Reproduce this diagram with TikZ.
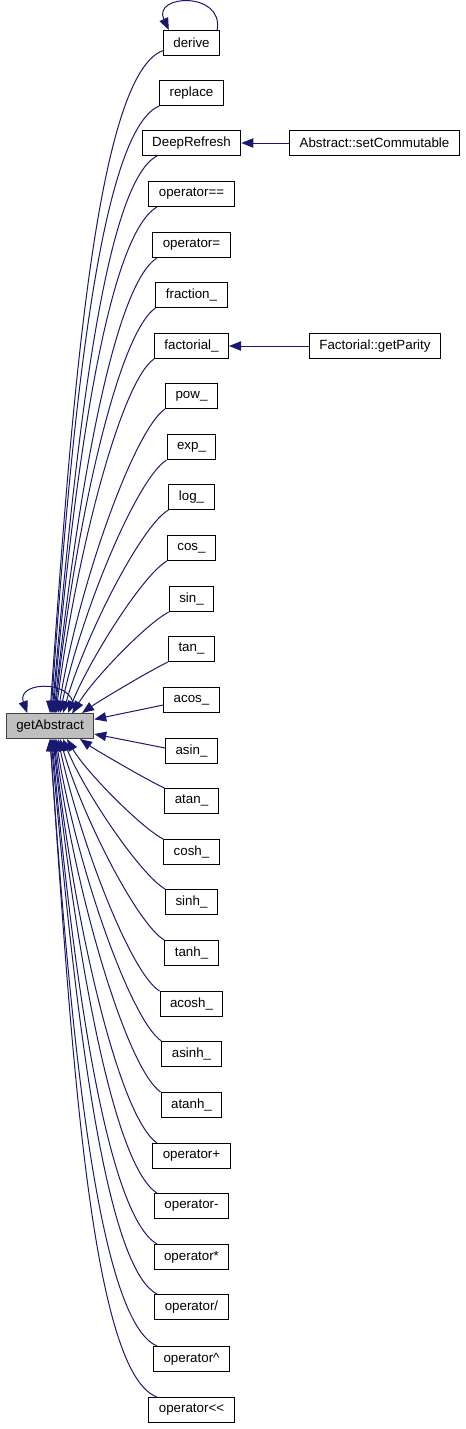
\documentclass[tikz,border=0pt]{standalone}
\usepackage{fontspec}
\setmainfont{Liberation Sans}
\usetikzlibrary{arrows.meta,calc}
\definecolor{edgeblue}{HTML}{191970}
\definecolor{focusgray}{HTML}{BFBFBF}

\begin{document}
\begin{tikzpicture}[x=0.75pt,y=0.75pt]
\tikzset{
  funcnode/.style={rectangle,draw=black,line width=0.75pt,fill=white,minimum height=18.75pt,inner xsep=7.5pt,inner ysep=0pt,font=\fontsize{10}{12}\selectfont},
  focusnode/.style={funcnode,fill=focusgray,draw=black!75},
  calledge/.style={draw=edgeblue,line width=0.75pt,-{Triangle[length=9pt,width=7pt]}}
}
\useasboundingbox (0,0) rectangle (465,-1429);
\coordinate (c_start) at (157,0);
\node[focusnode] (n_getAbstract) at (50,-726) {getAbstract};
\node[funcnode] (n_derive) at (191.5,-43) {derive};
\node[funcnode] (n_replace) at (191.5,-93) {replace};
\node[funcnode] (n_DeepRefresh) at (191.5,-143) {DeepRefresh};
\node[funcnode] (n_setCommutable) at (374.5,-143) {Abstract::setCommutable};
\node[funcnode] (n_opEq) at (191.5,-194) {operator==};
\node[funcnode] (n_opAssign) at (191.5,-245) {operator=};
\node[funcnode] (n_fraction) at (191.5,-295) {fraction\_};
\node[funcnode] (n_factorial) at (191.5,-346) {factorial\_};
\node[funcnode] (n_getParity) at (375,-346) {Factorial::getParity};
\node[funcnode] (n_pow) at (191.5,-396) {pow\_};
\node[funcnode] (n_exp) at (191.5,-447) {exp\_};
\node[funcnode] (n_log) at (191.5,-497) {log\_};
\node[funcnode] (n_cos) at (191.5,-548) {cos\_};
\node[funcnode] (n_sin) at (191.5,-599) {sin\_};
\node[funcnode] (n_tan) at (191.5,-649) {tan\_};
\node[funcnode] (n_acos) at (191.5,-700) {acos\_};
\node[funcnode] (n_asin) at (191.5,-751) {asin\_};
\node[funcnode] (n_atan) at (191.5,-801) {atan\_};
\node[funcnode] (n_cosh) at (191.5,-852) {cosh\_};
\node[funcnode] (n_sinh) at (191.5,-902) {sinh\_};
\node[funcnode] (n_tanh) at (191.5,-953) {tanh\_};
\node[funcnode] (n_acosh) at (191.5,-1004) {acosh\_};
\node[funcnode] (n_asinh) at (191.5,-1054) {asinh\_};
\node[funcnode] (n_atanh) at (191.5,-1105) {atanh\_};
\node[funcnode] (n_opPlus) at (191.5,-1156) {operator+};
\node[funcnode] (n_opMinus) at (191.5,-1206) {operator-};
\node[funcnode] (n_opTimes) at (191.5,-1257) {operator*};
\node[funcnode] (n_opDiv) at (191.5,-1307) {operator/};
\node[funcnode] (n_opPow) at (191.5,-1359) {operator\^{}};
\node[funcnode] (n_opShift) at (191.5,-1410) {operator<{}<};
% self calls
\draw[calledge] ([xshift=-2.25pt]n_derive.north east) to[out=80,in=115,looseness=2.1] ([xshift=4.5pt]n_derive.north west);
\draw[calledge] ([xshift=17pt]n_getAbstract.north) to[out=75,in=110,looseness=2] ([xshift=-17pt]n_getAbstract.north);
% callers of other callers
\draw[calledge] (n_setCommutable) -- (n_DeepRefresh);
\draw[calledge] (n_getParity) -- (n_factorial);
% callers above
\draw[calledge] ([yshift=4pt]n_derive.south west) to[out=200,in=86,out looseness=0.275,in looseness=1.15] ($(n_getAbstract.north)+(0,0)$);
\draw[calledge] (n_replace.south west) to[out=203,in=86,out looseness=0.28,in looseness=1.12] ($(n_getAbstract.north)+(1,0)$);
\draw[calledge] (n_DeepRefresh.south -| c_start) to[out=207,in=85,out looseness=0.28,in looseness=1.1] ($(n_getAbstract.north)+(2,0)$);
\draw[calledge] (n_opEq.south -| c_start) to[out=210,in=85,out looseness=0.3,in looseness=1.08] ($(n_getAbstract.north)+(3,0)$);
\draw[calledge] (n_opAssign.south -| c_start) to[out=212,in=84,out looseness=0.3,in looseness=1.05] ($(n_getAbstract.north)+(4,0)$);
\draw[calledge] (n_fraction.south west) to[out=215,in=84,out looseness=0.3,in looseness=1.05] ($(n_getAbstract.north)+(5,0)$);
\draw[calledge] (n_factorial.south west) to[out=215,in=83,out looseness=0.3,in looseness=1] ($(n_getAbstract.north)+(6,0)$);
\draw[calledge] (n_pow.south west) to[out=214,in=81,out looseness=0.3,in looseness=1] ($(n_getAbstract.north)+(8,0)$);
\draw[calledge] (n_exp.south west) to[out=212,in=78,out looseness=0.33,in looseness=0.95] ($(n_getAbstract.north)+(10,0)$);
\draw[calledge] (n_log.south west) to[out=210,in=74,out looseness=0.35,in looseness=0.9] ($(n_getAbstract.north)+(13,0)$);
\draw[calledge] (n_cos.south west) to[out=210,in=68,out looseness=0.4,in looseness=0.8] ($(n_getAbstract.north)+(18,0)$);
\draw[calledge] (n_sin.south west) to[out=207,in=60,out looseness=0.45,in looseness=0.7] ($(n_getAbstract.north)+(23,0)$);
\draw[calledge] (n_tan.south west) to[out=205,in=35,looseness=0.5] ($(n_getAbstract.north)+(32,0)$);
% callers level with it
\draw[calledge] ([yshift=-3.75pt]n_acos.west) -- ([yshift=5pt]n_getAbstract.east);
\draw[calledge] ([yshift=2.25pt]n_asin.west) -- ([yshift=-6pt]n_getAbstract.east);
% callers below
\draw[calledge] (n_atan.north west) to[out=155,in=-35,looseness=0.5] ($(n_getAbstract.south)+(30,0)$);
\draw[calledge] (n_cosh.north west) to[out=153,in=-60,out looseness=0.45,in looseness=0.7] ($(n_getAbstract.south)+(17,0)$);
\draw[calledge] (n_sinh.north west) to[out=150,in=-68,out looseness=0.4,in looseness=0.8] ($(n_getAbstract.south)+(13,0)$);
\draw[calledge] (n_tanh.north west) to[out=150,in=-74,out looseness=0.35,in looseness=0.9] ($(n_getAbstract.south)+(10,0)$);
\draw[calledge] (n_acosh.north west) to[out=148,in=-78,out looseness=0.33,in looseness=0.95] ($(n_getAbstract.south)+(8,0)$);
\draw[calledge] (n_asinh.north west) to[out=146,in=-81,out looseness=0.3,in looseness=1] ($(n_getAbstract.south)+(6,0)$);
\draw[calledge] (n_atanh.north west) to[out=145,in=-83,out looseness=0.3,in looseness=1] ($(n_getAbstract.south)+(5,0)$);
\draw[calledge] (n_opPlus.north -| c_start) to[out=145,in=-84,out looseness=0.3,in looseness=1.05] ($(n_getAbstract.south)+(4,0)$);
\draw[calledge] (n_opMinus.north -| c_start) to[out=148,in=-84,out looseness=0.3,in looseness=1.05] ($(n_getAbstract.south)+(3,0)$);
\draw[calledge] (n_opTimes.north -| c_start) to[out=150,in=-85,out looseness=0.3,in looseness=1.08] ($(n_getAbstract.south)+(2,0)$);
\draw[calledge] (n_opDiv.north -| c_start) to[out=153,in=-85,out looseness=0.28,in looseness=1.1] ($(n_getAbstract.south)+(1,0)$);
\draw[calledge] (n_opPow.north -| c_start) to[out=157,in=-86,out looseness=0.28,in looseness=1.12] ($(n_getAbstract.south)+(0,0)$);
\draw[calledge] (n_opShift.north -| c_start) to[out=160,in=-86,out looseness=0.275,in looseness=1.15] ($(n_getAbstract.south)+(0,0)$);
\end{tikzpicture}
\end{document}
